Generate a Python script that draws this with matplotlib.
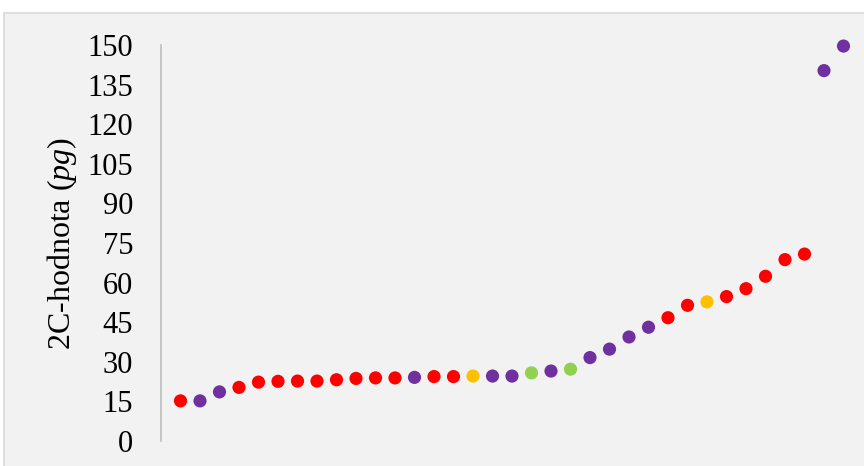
import matplotlib
matplotlib.use('Agg')
import matplotlib.pyplot as plt
from matplotlib.patches import Rectangle

# 2C values (pg), in plotting order
values = [15.2, 15.2, 18.6, 20.3, 22.3, 22.6, 22.7, 22.7, 23.2, 23.7,
          23.9, 23.9, 24.1, 24.4, 24.4, 24.6, 24.6, 24.6, 25.8, 26.5,
          27.2, 31.6, 34.8, 39.4, 43.1, 46.7, 51.4, 52.7, 54.7, 57.7,
          62.4, 68.7, 70.8, 140.3, 149.6]
groups = ['r', 'p', 'p', 'r', 'r', 'r', 'r', 'r', 'r', 'r',
          'r', 'r', 'p', 'r', 'r', 'o', 'p', 'p', 'g', 'p',
          'g', 'p', 'p', 'p', 'p', 'r', 'r', 'o', 'r', 'r',
          'r', 'r', 'r', 'p', 'p']
group_colors = {'r': '#FF0000', 'p': '#7030A0', 'o': '#FFC000', 'g': '#92D050'}
y_ticks = list(range(0, 151, 15))

plt.rcParams['font.family'] = ['Liberation Serif', 'DejaVu Serif']
plt.rcParams['mathtext.fontset'] = 'custom'
plt.rcParams['mathtext.rm'] = 'Liberation Serif'
plt.rcParams['mathtext.it'] = 'Liberation Serif:italic'

fig = plt.figure(figsize=(8.64, 4.66), dpi=100, facecolor='white')
# chart area background with thin frame (top/left edges visible)
fig.patches.append(Rectangle((4 / 864, -0.1), 1.1, 1 - 13 / 466 + 0.1,
                             transform=fig.transFigure, facecolor='#F2F2F2',
                             edgecolor='#D9D9D9', linewidth=1.2, zorder=-10))

ax = fig.add_axes([161 / 864, 1 - 441 / 466, 702 / 864, 396 / 466])
ax.set_facecolor('none')

x = list(range(1, len(values) + 1))
cols = [group_colors[g] for g in groups]
ax.scatter(x, values, s=90, c=cols, linewidths=0, clip_on=False, zorder=3)

ax.set_xlim(0, 36)
ax.set_ylim(0, 150)
ax.set_yticks(y_ticks)
ax.tick_params(axis='y', length=0, pad=20, labelsize=22)
ax.set_xticks([])
for s in ['top', 'right', 'bottom']:
    ax.spines[s].set_visible(False)
ax.spines['left'].set_color('#BFBFBF')
ax.spines['left'].set_linewidth(1.2)

ax.set_ylabel('2C-hodnota ($\\mathit{pg}$)', fontsize=23, labelpad=6)

fig.savefig('out.png', dpi=100)
